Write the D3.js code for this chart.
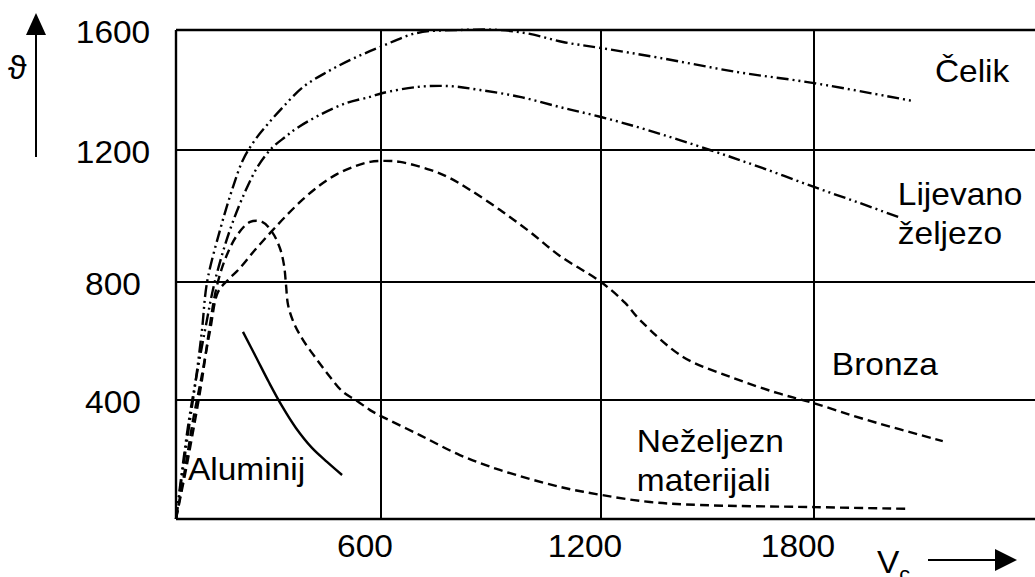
<!DOCTYPE html>
<html>
<head>
<meta charset="utf-8">
<script src="https://cdn.jsdelivr.net/npm/d3@7"></script>
<style>
  html, body { margin: 0; padding: 0; background: #fff; }
  svg { display: block; }
  text { font-family: "Liberation Sans", Arial, sans-serif; fill: #000; }
</style>
</head>
<body>
<svg id="chart" width="1035" height="577"></svg>
<script>
// ---- data (v_c, temperature) ----
const xTicks = [600, 1200, 1800];
const yTicks = [400, 800, 1200, 1600];

const celik = [[0,0],[20,165],[41,333],[58,468],[76,637],[91,800],[129,958],[164,1079],[196,1170],
  [231,1233],[269,1287],[313,1343],[372,1410],[442,1460],[515,1503],[597,1543],[698,1590],[815,1600],[924,1600],
  [1006,1587],[1096,1560],[1200,1540],[1366,1507],[1583,1460],[1800,1423],[2078,1363]];

const lijevano = [[0,0],[18,165],[38,333],[58,468],[85,637],[114,803],[158,958],[202,1073],[240,1151],
  [281,1207],[319,1243],[354,1273],[421,1317],[500,1357],[568,1377],[605,1390],[698,1410],[788,1413],[870,1400],
  [979,1377],[1088,1343],[1200,1310],[1330,1267],[1507,1200],[1648,1148],[1800,1088],[1929,1039],[2036,997]];

const bronza = [[0,0],[26,165],[50,333],[73,468],[100,637],[123,766],[152,806],[187,842],[231,897],
  [275,948],[319,997],[372,1051],[422,1094],[471,1127],[524,1151],[568,1164],[611,1167],[652,1164],
  [734,1140],[788,1115],[843,1079],[925,1018],[1006,952],[1088,879],[1200,800],[1268,729],[1310,671],
  [1431,546],[1572,475],[1696,424],[1797,390],[1948,333],[2161,262]];

const nezeljezni = [[0,0],[29,165],[56,333],[76,468],[97,637],[117,773],[143,867],[179,942],[217,982],
  [252,982],[281,952],[304,903],[316,852],[322,790],[328,722],[345,661],[372,603],[413,536],[451,478],
  [489,427],[530,397],[568,366],[600,346],[706,282],[815,215],[924,165],[1088,108],[1200,81],
  [1338,57],[1479,47],[1800,40],[2069,34]];

const aluminij = [[196,631],[234,546],[272,460],[310,380],[351,306],[398,239],[442,192],[486,148]];

const seriesLabels = [
  { lines: ["Čelik"], v: [2139, 1427] },
  { lines: ["Lijevano", "željezo"], v: [2035, 1033] },
  { lines: ["Bronza"], v: [1850, 485] },
  { lines: ["Neželjezn", "materijali"], v: [1301, 225] },
  { lines: ["Aluminij"], v: [35, 131] }
];

// ---- scales (the scanned grid is slightly uneven, so piecewise-linear) ----
const x = d3.scaleLinear().domain([0, 600, 1200, 1800, 2400]).range([176, 381, 601, 814, 1028]);
const y = d3.scaleLinear().domain([0, 400, 800, 1200, 1600]).range([519, 400, 282, 150, 30]);

const svg = d3.select("#chart");
const W = 1035;

// grid
const g = svg.append("g");
g.selectAll(".hg").data(yTicks.filter(d => d < 1600)).join("line")
  .attr("x1", x(0)).attr("x2", W).attr("y1", d => y(d)).attr("y2", d => y(d))
  .attr("stroke", "#000").attr("stroke-width", 2);
g.selectAll(".vg").data(xTicks).join("line")
  .attr("x1", d => x(d)).attr("x2", d => x(d)).attr("y1", y(1600)).attr("y2", y(0))
  .attr("stroke", "#000").attr("stroke-width", 2);
// frame
g.append("line").attr("x1", x(0)).attr("x2", W).attr("y1", y(1600)).attr("y2", y(1600)).attr("stroke", "#000").attr("stroke-width", 2.4);
g.append("line").attr("x1", x(0)).attr("x2", W).attr("y1", y(0)).attr("y2", y(0)).attr("stroke", "#000").attr("stroke-width", 2.6);
g.append("line").attr("x1", x(0)).attr("x2", x(0)).attr("y1", y(1600)).attr("y2", y(0)).attr("stroke", "#000").attr("stroke-width", 2.4);

// tick labels
const FS = 31, SX = 1.08;
svg.selectAll(".yl").data(yTicks).join("text")
  .attr("transform", d => `translate(113,${y(d) + 2}) scale(${SX},1)`)
  .attr("text-anchor", "middle").attr("dominant-baseline", "central")
  .attr("font-size", FS).text(d => d);
svg.selectAll(".xl").data(xTicks).join("text")
  .attr("transform", d => `translate(${x(d) - 16},557) scale(${SX},1)`)
  .attr("text-anchor", "middle")
  .attr("font-size", FS).text(d => d);

// curves
const line = d3.line().x(d => x(d[0])).y(d => y(d[1])).curve(d3.curveCatmullRom.alpha(0.5));
const dashDotDot = "12,4,2,4,2,4";
const dashed = "9,5";
const curves = [
  { data: celik, dash: dashDotDot },
  { data: lijevano, dash: dashDotDot },
  { data: bronza, dash: dashed },
  { data: nezeljezni, dash: dashed },
  { data: aluminij, dash: null }
];
svg.selectAll(".curve").data(curves).join("path")
  .attr("d", d => line(d.data))
  .attr("fill", "none").attr("stroke", "#000").attr("stroke-width", 2.4)
  .attr("stroke-dasharray", d => d.dash);

// series labels
seriesLabels.forEach(l => {
  l.lines.forEach((t, i) => {
    svg.append("text")
      .attr("transform", `translate(${x(l.v[0])},${y(l.v[1]) + i * 39}) scale(${SX},1)`)
      .attr("font-size", FS).text(t);
  });
});

// axis arrows
svg.append("line").attr("x1", 36).attr("x2", 36).attr("y1", 157).attr("y2", 32).attr("stroke", "#000").attr("stroke-width", 2);
svg.append("path").attr("d", "M36,13 L46,35 L26,35 Z").attr("fill", "#000");
svg.append("text").attr("x", 8).attr("y", 79).attr("font-family", "DejaVu Serif, serif").attr("font-size", 34).text("ϑ");

svg.append("line").attr("x1", 928).attr("x2", 1000).attr("y1", 560).attr("y2", 560).attr("stroke", "#000").attr("stroke-width", 2);
svg.append("path").attr("d", "M1017,560 L995,549 L995,571 Z").attr("fill", "#000");
const vc = svg.append("text").attr("transform", `translate(877,573) scale(${SX},1)`).attr("font-size", FS);
vc.append("tspan").text("V");
vc.append("tspan").attr("font-size", 20).attr("dy", 8).text("c");
</script>
</body>
</html>
